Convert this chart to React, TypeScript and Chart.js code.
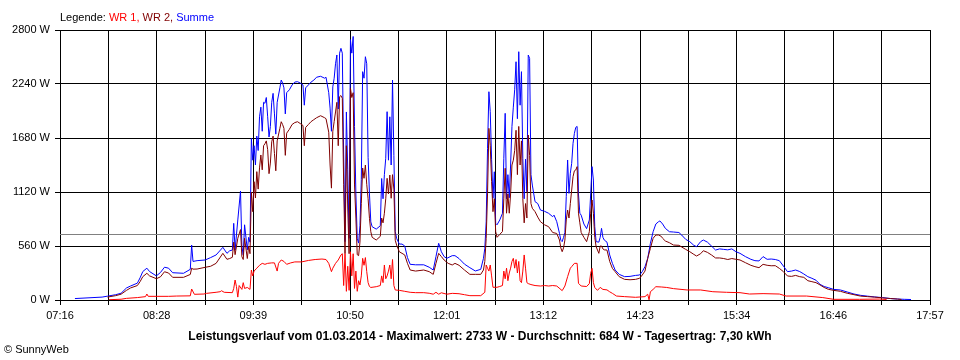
import React, { useEffect, useRef } from "react";
import { Chart, registerables } from "chart.js";

Chart.register(...registerables);

// ---- axis / text data ----
const timeLabels = ["07:16", "08:28", "09:39", "10:50", "12:01", "13:12", "14:23", "15:34", "16:46", "17:57"];
const axisSpanMinutes = 641; // 07:16 -> 17:57
const gridDivisions = 18;
const yMax = 2800;
const yStep = 560;
const averageWatt = 684;
const legendParts = [
  { text: "Legende: ", color: "#000000" },
  { text: "WR 1,", color: "#ff0000" },
  { text: " WR 2,", color: "#800000" },
  { text: " Summe", color: "#0000ff" },
];
const titleText =
  "Leistungsverlauf vom 01.03.2014 - Maximalwert: 2733 W - Durchschnitt: 684 W - Tagesertrag: 7,30 kWh";
const creditText = "© SunnyWeb";

// ---- series: minutes after 07:16 and watts ----
const summeMinutes = [
  11, 31, 35, 41, 45, 49, 52, 57, 59, 61,
  64, 66, 71, 74, 77, 80, 83, 91, 96, 97,
  98, 101, 107, 111, 115, 120, 123, 125, 127, 128,
  129, 131, 133, 134, 135, 136, 138, 139, 140, 141,
  142, 143, 144, 145, 146, 147, 148, 149, 150, 151,
  152, 153, 154, 155, 156, 157, 158, 159, 160, 162,
  163, 164, 165, 166, 167, 169, 171, 173, 175, 177,
  179, 180, 181, 183, 185, 187, 189, 192, 195, 196,
  198, 199, 200, 201, 202, 203, 204, 205, 206, 207,
  208, 209, 210, 211, 212, 213, 214, 215, 216, 217,
  218, 219, 220, 221, 222, 223, 224, 225, 226, 227,
  228, 229, 230, 233, 236, 237, 238, 239, 240, 241,
  242, 243, 244, 245, 246, 247, 248, 250, 252, 254,
  256, 258, 262, 268, 272, 275, 277, 279, 281, 283,
  285, 289, 291, 294, 298, 302, 306, 310, 312, 313,
  314, 315, 316, 317, 318, 319, 320, 321, 322, 324,
  326, 327, 328, 329, 330, 331, 332, 333, 334, 335,
  336, 337, 338, 339, 340, 341, 342, 343, 344, 345,
  346, 347, 348, 350, 352, 354, 357, 360, 363, 364,
  366, 368, 369, 370, 371, 372, 373, 374, 375, 376,
  377, 378, 379, 380, 381, 382, 383, 384, 386, 388,
  390, 391, 392, 393, 394, 395, 397, 398, 399, 400,
  401, 403, 405, 407, 409, 412, 416, 420, 424, 427,
  429, 431, 433, 435, 437, 439, 441, 442, 444, 446,
  449, 452, 456, 458, 461, 464, 467, 469, 472, 474,
  477, 480, 483, 486, 489, 492, 495, 498, 501, 505,
  509, 512, 515, 518, 521, 524, 527, 530, 533, 536,
  539, 542, 545, 548, 551, 554, 557, 560, 563, 566,
  570, 575, 580, 585, 590, 595, 600, 606, 612, 617,
  622, 627,
];
const summeWatts = [
  15, 30, 40, 55, 70, 125, 145, 175, 230, 295,
  330, 295, 250, 285, 340, 330, 283, 277, 318, 570,
  400, 408, 415, 440, 467, 546, 484, 510, 518, 795,
  518, 830, 1130, 560, 467, 780, 520, 650, 600, 1676,
  1450, 1600, 1400, 1700, 1550, 1900, 2000, 1750, 2050, 2040,
  2100, 1900, 1690, 1800, 2050, 2143, 1930, 1720, 2050, 2200,
  2281, 2250, 2200, 1930, 2150, 2180, 2230, 2260, 2264, 2250,
  2230, 2020, 2200, 2230, 2260, 2280, 2310, 2320, 2300, 2310,
  2150, 1990, 1750, 2210, 2300, 2450, 2541, 1980, 2560, 2610,
  2560, 1504, 605, 1950, 1350, 640, 2700, 2560, 2733, 1800,
  1100, 640, 590, 770, 1250, 2368, 2300, 2523, 2450, 1480,
  1100, 810, 760, 735, 770, 1260, 1050, 1300, 1470, 1953,
  1450, 1900, 1400, 2281, 1500, 710, 640, 580, 580, 560,
  440, 370, 365, 365, 340, 311, 450, 588, 500, 450,
  432, 460, 460, 430, 372, 335, 301, 318, 432, 536,
  810, 1573, 2160, 1953, 1460, 1055, 1330, 795, 780, 830,
  899, 1470, 1936, 1050, 1300, 1060, 1400, 1800, 2000, 2180,
  2471, 1880, 2575, 2020, 2368, 1470, 1050, 1460, 1123, 2540,
  2506, 1300, 1192, 1020, 1000, 933, 920, 899, 864, 880,
  812, 691, 620, 605, 650, 700, 1072, 1452, 1106, 1314,
  1417, 1625, 1728, 1790, 1800, 1100, 900, 880, 788, 740,
  830, 1100, 1383, 1244, 760, 605, 600, 650, 743, 650,
  622, 600, 467, 380, 311, 266, 242, 245, 255, 259,
  294, 346, 430, 588, 708, 788, 812, 820, 788, 743,
  708, 705, 700, 674, 629, 605, 567, 553, 605, 622,
  600, 560, 518, 530, 525, 520, 530, 501, 484, 450,
  422, 408, 405, 450, 422, 425, 420, 408, 352, 294,
  300, 311, 295, 270, 242, 225, 205, 162, 140, 128,
  110, 104, 83, 62, 48, 40, 32, 25, 15, 10,
  7, 5,
];

const wr2Minutes = [
  35, 41, 45, 49, 52, 57, 59, 61, 64, 66,
  71, 74, 77, 80, 83, 91, 96, 97, 98, 101,
  107, 111, 115, 120, 123, 125, 127, 128, 129, 131,
  133, 134, 135, 136, 138, 139, 140, 141, 142, 143,
  144, 145, 146, 147, 148, 149, 150, 151, 152, 153,
  154, 155, 156, 157, 158, 159, 160, 162, 163, 164,
  165, 166, 167, 169, 171, 173, 175, 177, 179, 180,
  181, 183, 185, 187, 189, 192, 195, 196, 198, 199,
  200, 201, 202, 203, 204, 205, 206, 207, 208, 209,
  210, 211, 212, 213, 214, 215, 216, 217, 218, 219,
  220, 221, 222, 223, 224, 225, 226, 227, 228, 229,
  230, 233, 236, 237, 238, 239, 240, 241, 242, 243,
  244, 245, 246, 247, 248, 250, 252, 254, 256, 258,
  262, 268, 272, 275, 277, 279, 281, 283, 285, 286,
  289, 291, 294, 298, 302, 306, 310, 312, 313, 314,
  315, 316, 317, 318, 319, 320, 321, 322, 324, 326,
  327, 328, 329, 330, 331, 332, 333, 334, 335, 336,
  337, 338, 339, 340, 341, 342, 343, 344, 345, 346,
  347, 348, 350, 352, 354, 357, 360, 363, 366, 368,
  369, 370, 371, 372, 373, 374, 375, 376, 377, 378,
  379, 380, 381, 382, 383, 384, 386, 388, 390, 391,
  392, 393, 394, 395, 397, 398, 399, 400, 401, 403,
  405, 407, 409, 412, 416, 420, 424, 427, 429, 431,
  433, 435, 437, 439, 441, 443, 444, 446, 449, 452,
  456, 458, 461, 464, 467, 469, 472, 474, 477, 480,
  483, 486, 489, 492, 495, 498, 501, 505, 509, 512,
  515, 518, 521, 524, 527, 530, 533, 536, 539, 542,
  545, 548, 551, 554, 557, 560, 563, 566, 570, 575,
  580, 585, 590, 595, 600, 606, 612, 617, 620,
];
const wr2Watts = [
  30, 45, 60, 100, 125, 150, 190, 242, 277, 250,
  221, 240, 293, 280, 235, 235, 265, 330, 320, 321,
  339, 350, 380, 484, 422, 430, 443, 600, 470, 640,
  730, 450, 420, 640, 430, 560, 480, 1120, 916, 1227,
  1058, 1331, 1150, 1370, 1504, 1350, 1600, 1620, 1650, 1560,
  1310, 1420, 1640, 1700, 1520, 1340, 1650, 1780, 1849, 1820,
  1780, 1500, 1730, 1770, 1820, 1840, 1849, 1830, 1810, 1600,
  1790, 1820, 1850, 1870, 1890, 1911, 1890, 1880, 1740, 1400,
  1160, 1750, 1850, 1950, 2050, 1600, 2109, 2120, 2092, 1200,
  480, 1600, 954, 480, 2195, 2100, 2150, 1193, 850, 470,
  460, 600, 1000, 1369, 1262, 1400, 1200, 1050, 847, 708,
  650, 622, 660, 850, 800, 900, 1050, 1262, 1100, 1296,
  1055, 1300, 1150, 620, 570, 500, 484, 467, 380, 311,
  300, 311, 294, 266, 380, 484, 450, 415, 391, 380,
  363, 380, 360, 311, 266, 266, 266, 311, 400, 640,
  1100, 1780, 1600, 1227, 916, 1050, 708, 650, 680, 710,
  1050, 1366, 900, 1100, 900, 1100, 1400, 1450, 1550, 1760,
  1300, 1800, 1400, 1650, 1050, 800, 1000, 850, 1711, 1500,
  1000, 951, 916, 860, 812, 780, 760, 700, 690, 622,
  540, 501, 540, 622, 830, 933, 850, 1000, 1141, 1279,
  1340, 1348, 1383, 900, 800, 700, 650, 605, 708, 900,
  1037, 899, 650, 553, 484, 560, 560, 530, 520, 518,
  400, 328, 294, 242, 214, 210, 214, 225, 259, 300,
  432, 536, 640, 674, 674, 660, 640, 612, 594, 570,
  567, 550, 525, 501, 473, 456, 480, 511, 494, 467,
  436, 436, 430, 420, 430, 422, 415, 387, 360, 346,
  335, 370, 360, 355, 356, 328, 294, 249, 245, 255,
  242, 235, 200, 190, 180, 156, 130, 111, 100, 90,
  70, 55, 40, 35, 30, 22, 15, 10, 5,
];

const wr1Minutes = [
  36, 45, 49, 57, 63, 64, 65, 70, 80, 86,
  96, 97, 99, 106, 108, 115, 118, 119, 121, 127,
  128, 129, 130, 131, 132, 134, 135, 136, 138, 140,
  141, 142, 143, 145, 147, 149, 151, 153, 156, 158,
  160, 161, 163, 165, 167, 170, 173, 178, 183, 188,
  193, 196, 198, 200, 201, 203, 205, 207, 208, 209,
  210, 211, 212, 213, 214, 215, 216, 217, 218, 219,
  220, 221, 222, 223, 224, 225, 226, 227, 228, 229,
  233, 236, 237, 238, 239, 240, 241, 242, 243, 244,
  245, 246, 247, 250, 254, 258, 262, 268, 272, 275,
  277, 279, 281, 285, 289, 294, 298, 302, 310, 313,
  314, 315, 316, 317, 318, 319, 322, 324, 326, 327,
  328, 329, 330, 331, 332, 333, 334, 335, 336, 337,
  338, 339, 340, 341, 342, 343, 344, 345, 347, 350,
  354, 357, 360, 363, 366, 370, 372, 374, 376, 377,
  379, 381, 382, 384, 388, 390, 391, 392, 393, 394,
  396, 398, 400, 403, 405, 407, 410, 416, 424, 431,
  433, 434, 435, 437, 439, 443, 447, 452, 462, 472,
  481, 491, 501, 508, 518, 530, 535, 550, 562, 570,
  589, 604, 609,
];
const wr1Watts = [
  3, 8, 17, 25, 35, 62, 38, 38, 38, 41,
  43, 114, 59, 62, 69, 80, 86, 96, 80, 76,
  120, 207, 140, 30, 150, 110, 180, 120, 130, 110,
  311, 250, 300, 330, 360, 380, 370, 380, 385, 385,
  300, 380, 415, 400, 370, 385, 395, 395, 410, 420,
  425, 420, 380, 294, 330, 380, 415, 467, 480, 150,
  480, 90, 350, 100, 500, 250, 480, 120, 300, 90,
  200, 156, 250, 432, 360, 440, 294, 180, 140, 130,
  138, 150, 250, 180, 363, 220, 250, 300, 363, 220,
  420, 150, 104, 100, 90, 80, 76, 76, 70, 60,
  80, 60, 75, 60, 69, 65, 55, 45, 45, 80,
  363, 330, 300, 363, 250, 132, 132, 140, 150, 300,
  220, 330, 200, 280, 330, 400, 432, 330, 420, 280,
  400, 200, 180, 300, 467, 330, 180, 170, 160, 150,
  145, 150, 145, 150, 145, 97, 145, 242, 330, 346,
  380, 380, 173, 145, 140, 170, 277, 328, 180, 130,
  100, 131, 110, 105, 85, 69, 41, 35, 28, 35,
  60, 2, 86, 110, 138, 135, 130, 118, 104, 104,
  86, 80, 76, 62, 66, 62, 41, 41, 25, 7,
  7, 10, 5,
];

const FONT = '"Liberation Sans", Arial, sans-serif';

function toPoints(minutes: number[], watts: number[]) {
  return minutes.map((m, i) => ({ x: m, y: watts[i] }));
}

export default function App() {
  const canvasRef = useRef<HTMLCanvasElement | null>(null);

  useEffect(() => {
    const canvas = canvasRef.current;
    if (!canvas) return;

    const overlay = {
      id: "sunnyOverlay",
      beforeDatasetsDraw(chart: any) {
        const { ctx, chartArea, scales } = chart;
        const y = Math.round(scales.y.getPixelForValue(averageWatt)) + 0.5;
        ctx.save();
        ctx.strokeStyle = "#808080";
        ctx.lineWidth = 1;
        ctx.beginPath();
        ctx.moveTo(chartArea.left, y);
        ctx.lineTo(chartArea.right, y);
        ctx.stroke();
        ctx.restore();
      },
      afterDraw(chart: any) {
        const ctx = chart.ctx;
        ctx.save();
        ctx.textBaseline = "alphabetic";
        ctx.textAlign = "left";
        ctx.font = `11px ${FONT}`;
        let x = 60;
        for (const p of legendParts) {
          ctx.fillStyle = p.color;
          ctx.fillText(p.text, x, 20.5);
          x += ctx.measureText(p.text).width;
        }
        ctx.font = `bold 12px ${FONT}`;
        ctx.fillStyle = "#000";
        ctx.textAlign = "center";
        ctx.fillText(titleText, 480, 340);
        ctx.textAlign = "left";
        ctx.font = `11px ${FONT}`;
        ctx.fillText(creditText, 4, 353);
        ctx.restore();
      },
    };

    const tickFont = { family: FONT, size: 11 };

    const chart = new Chart(canvas, {
      type: "line",
      data: {
        datasets: [
          { label: "WR 1", data: toPoints(wr1Minutes, wr1Watts), borderColor: "#ff0000", backgroundColor: "#ff0000" },
          { label: "WR 2", data: toPoints(wr2Minutes, wr2Watts), borderColor: "#800000", backgroundColor: "#800000" },
          { label: "Summe", data: toPoints(summeMinutes, summeWatts), borderColor: "#0000ff", backgroundColor: "#0000ff" },
        ],
      },
      options: {
        animation: false,
        responsive: false,
        devicePixelRatio: 1,
        layout: { padding: { top: 30, right: 30, bottom: 40, left: 0 } },
        elements: {
          point: { radius: 0, hoverRadius: 0 },
          line: { borderWidth: 1, tension: 0, fill: false },
        },
        plugins: {
          legend: { display: false },
          tooltip: { enabled: false },
          title: { display: false },
        },
        scales: {
          x: {
            type: "linear",
            min: 0,
            max: axisSpanMinutes,
            afterBuildTicks: (scale: any) => {
              scale.ticks = Array.from({ length: gridDivisions + 1 }, (_, i) => ({
                value: (i * axisSpanMinutes) / gridDivisions,
              }));
            },
            afterFit: (scale: any) => {
              scale.height = 20;
            },
            ticks: {
              autoSkip: false,
              maxRotation: 0,
              minRotation: 0,
              padding: 4,
              color: "#000",
              font: tickFont,
              callback: (_v: any, i: number) => (i % 2 === 0 ? timeLabels[i / 2] : ""),
            },
            grid: { color: "#000", lineWidth: 1, tickLength: 5, tickColor: "#000" },
            border: { display: true, color: "#000", width: 1 },
          },
          y: {
            min: 0,
            max: yMax,
            afterFit: (scale: any) => {
              scale.width = 60;
            },
            ticks: {
              stepSize: yStep,
              padding: 5,
              color: "#000",
              font: tickFont,
              callback: (v: any) => `${v} W`,
            },
            grid: { color: "#000", lineWidth: 1, tickLength: 5, tickColor: "#000" },
            border: { display: true, color: "#000", width: 1 },
          },
        },
      },
      plugins: [overlay],
    } as any);

    return () => chart.destroy();
  }, []);

  return (
    <div style={{ position: "fixed", left: 0, top: 0, width: 960, height: 360, background: "#fff" }}>
      <canvas ref={canvasRef} width={960} height={360} style={{ display: "block", width: 960, height: 360 }} />
    </div>
  );
}
